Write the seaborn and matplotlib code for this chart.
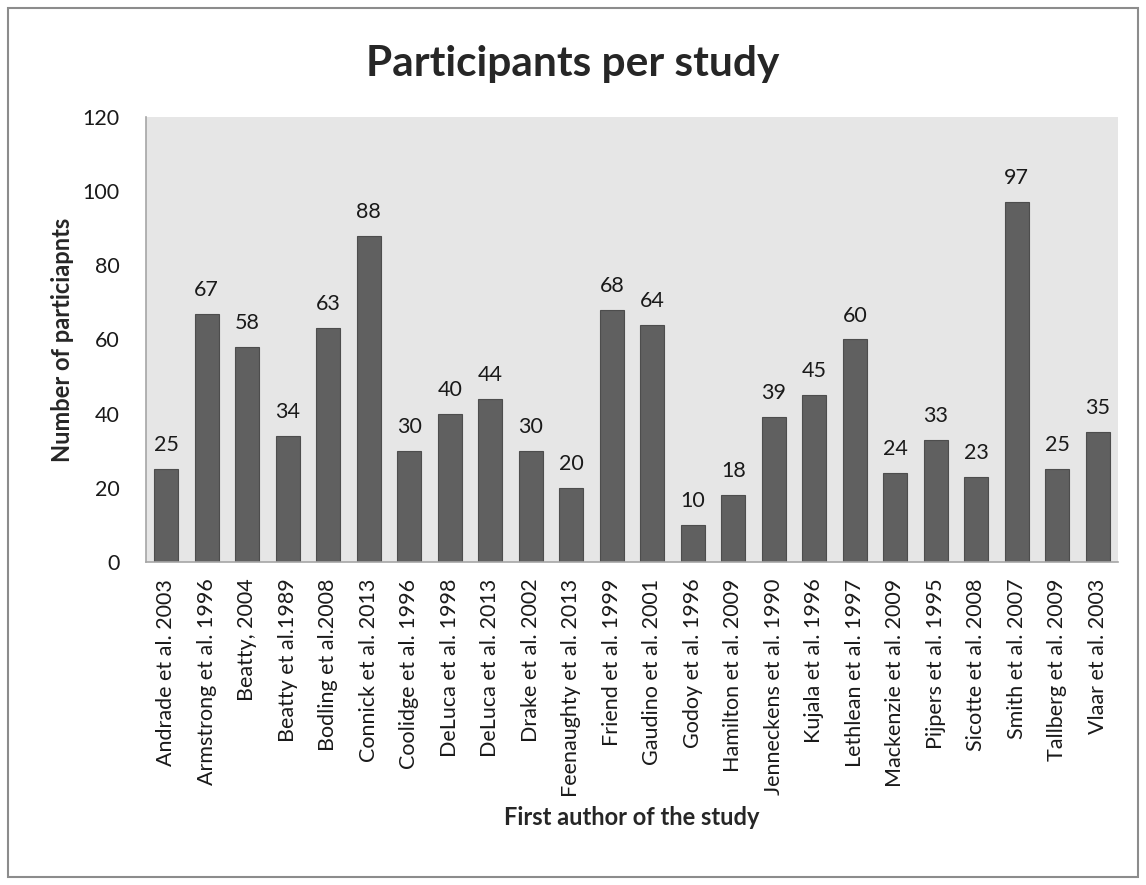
import matplotlib
matplotlib.use("Agg")
import matplotlib.pyplot as plt
from matplotlib.patches import Rectangle
import seaborn as sns
import pandas as pd

studies = [
    "Andrade et al. 2003", "Armstrong et al. 1996", "Beatty, 2004", "Beatty et al.1989",
    "Bodling et al.2008", "Connick et al. 2013", "Coolidge et al. 1996", "DeLuca et al. 1998",
    "DeLuca et al. 2013", "Drake et al. 2002", "Feenaughty et al. 2013", "Friend et al. 1999",
    "Gaudino et al. 2001", "Godoy et al. 1996", "Hamilton et al. 2009", "Jenneckens et al. 1990",
    "Kujala et al. 1996", "Lethlean et al. 1997", "Mackenzie et al. 2009", "Pijpers et al. 1995",
    "Sicotte et al. 2008", "Smith et al. 2007", "Tallberg et al. 2009", "Vlaar et al. 2003",
]
participants = [25, 67, 58, 34, 63, 88, 30, 40, 44, 30, 20, 68,
                64, 10, 18, 39, 45, 60, 24, 33, 23, 97, 25, 35]
y_ticks = [0, 20, 40, 60, 80, 100, 120]

df = pd.DataFrame({"study": studies, "n": participants})

sns.set_theme(style="white")
plt.rcParams["font.family"] = ["Lato", "DejaVu Sans"]

fig = plt.figure(figsize=(11.46, 8.85), dpi=100)
ax = fig.add_axes([0.1274, 0.365, 0.9756 - 0.1274, 0.8678 - 0.365])
ax.set_facecolor("#e6e6e6")

sns.barplot(data=df, x="study", y="n", color="#606060", width=0.6,
            saturation=1, edgecolor="#4d4d4d", linewidth=0.8, ax=ax)

ax.bar_label(ax.containers[0], labels=[str(v) for v in participants],
             padding=10, fontsize=15.5, color="#1a1a1a")

ax.set_ylim(0, 120)
ax.set_xlim(-0.5, len(studies) - 0.5)
ax.set_yticks(y_ticks)
ax.set_yticklabels([str(t) for t in y_ticks], fontsize=15.5, color="#1a1a1a")
ax.tick_params(axis="y", pad=19, length=0)
ax.tick_params(axis="x", pad=12, length=0)
plt.setp(ax.get_xticklabels(), rotation=90, fontsize=15.5, color="#1a1a1a")

for side in ("top", "right"):
    ax.spines[side].set_visible(False)
for side in ("left", "bottom"):
    ax.spines[side].set_color("#a6a6a6")
    ax.spines[side].set_linewidth(1.2)

ax.set_xlabel("First author of the study", fontsize=17, fontweight="bold", labelpad=7)
ax.set_ylabel("Number of particiapnts", fontsize=17, fontweight="bold", labelpad=6)
fig.text(0.5, 1 - 76 / 885, "Participants per study", ha="center", va="baseline",
         fontsize=30.5, fontweight="bold")

fig.patches.append(Rectangle((8 / 1146, 8 / 885), 1130 / 1146, 869 / 885,
                             transform=fig.transFigure, fill=False,
                             edgecolor="#8c8c8c", linewidth=1.5))

fig.savefig("out.png", dpi=100, facecolor="white")
